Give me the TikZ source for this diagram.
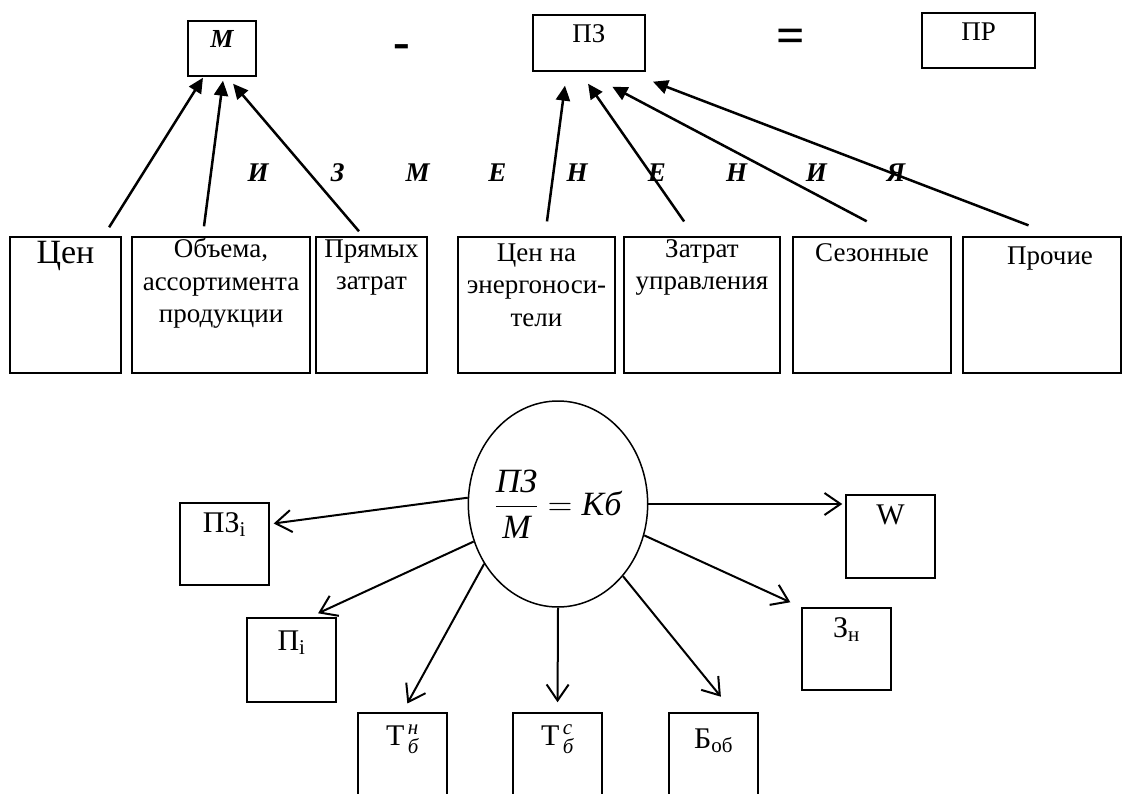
\RequirePackage{fix-cm}
\documentclass[tikz,border=0pt]{standalone}
\usepackage{amsmath}
\usepackage{fontspec}
\setmainfont{Liberation Serif}
\usetikzlibrary{shapes.geometric,arrows.meta}

\begin{document}
\begin{tikzpicture}[x=1pt, y=-1pt,
    fbox/.style={draw, line width=1.5pt, inner sep=0pt},
    intxt/.style={anchor=north, align=center, inner sep=0pt, font=\fontsize{27}{32.5}\selectfont},
    smtxt/.style={anchor=north, inner sep=0pt, font=\fontsize{30}{36}\selectfont},
    chg/.style={anchor=base, inner sep=0pt, font=\fontsize{27}{32}\selectfont\bfseries\itshape},
    opsign/.style={anchor=base, inner sep=0pt, font=\fontsize{50}{50}\selectfont\bfseries},
    toarr/.style={line width=2.5pt, -{Triangle[length=15pt,width=14pt]}},
    fromarr/.style={line width=2pt, -{Straight Barb[length=16pt,width=22pt]}}]
    \useasboundingbox (0,0) rectangle (1131,794);

    % M - PZ = PR
    \node[fbox, minimum width=68, minimum height=55] (m) at (222,48.5) {};
    \node[intxt, font=\fontsize{26}{32}\selectfont\bfseries\itshape] (mt) at ([yshift=-10]m.north) {М};
    \node[opsign] (minus) at (402,59) {-};
    \node[fbox, minimum width=112, minimum height=56] (pz) at (589,43) {};
    \node[intxt] (pzt) at ([yshift=-10]pz.north) {ПЗ};
    \node[opsign] (eq) at (791,53) {=};
    \node[fbox, minimum width=113, minimum height=55] (prb) at (978.5,40.5) {};
    \node[intxt] (prbt) at ([yshift=-10]prb.north) {ПР};

    % Factors
    \node[fbox, minimum width=111, minimum height=136] (cen) at (65.5,305) {};
    \node[intxt, font=\fontsize{34}{40}\selectfont] (cent) at ([yshift=-5]cen.north) {Цен};
    \node[fbox, minimum width=178, minimum height=136] (ob) at (221,305) {};
    \node[intxt] (obt) at ([yshift=-2]ob.north) {Объема,\\ассортимента\\продукции};
    \node[fbox, minimum width=111, minimum height=136] (pryam) at (371.5,305) {};
    \node[intxt] (pryamt) at ([yshift=-3]pryam.north) {Прямых\\затрат};
    \node[fbox, minimum width=157, minimum height=136] (en) at (536.5,305) {};
    \node[intxt] (ent) at ([yshift=-7]en.north) {Цен на\\энергоноси-\\тели};
    \node[fbox, minimum width=156, minimum height=136] (zu) at (702,305) {};
    \node[intxt] (zut) at ([yshift=-3]zu.north) {Затрат\\управления};
    \node[fbox, minimum width=158, minimum height=136] (sez) at (872,305) {};
    \node[intxt] (sezt) at ([yshift=-7]sez.north) {Сезонные};
    \node[fbox, minimum width=158, minimum height=136] (pro) at (1042,305) {};
    \node[intxt] (prot) at ([xshift=8,yshift=-10]pro.north) {Прочие};

    % Changes
    \foreach \ch [count=\i from 0] in {И,З,М,Е,Н,Е,Н,И,Я}
        \node[chg] (ch\i) at (258+79.75*\i,182) {\ch};

    \draw[toarr, shorten <=10.6pt, shorten >=1.2pt] ([xshift=38]cen.north) -- ([xshift=-18.4]m.south);
    \draw[toarr, shorten <=10pt, shorten >=4pt] ([xshift=-18.3]ob.north) -- ([xshift=1.5]m.south);
    \draw[toarr, shorten <=6.5pt, shorten >=9.2pt] ([xshift=-8.3]pryam.north) -- ([xshift=5.1]m.south);
    \draw[toarr, shorten <=15pt, shorten >=14pt] ([xshift=8.5]en.north) -- ([xshift=-22.2]pz.south);
    \draw[toarr, shorten <=18pt, shorten >=14.6pt] ([xshift=-7.6]zu.north) -- ([xshift=-9.3]pz.south);
    \draw[toarr, shorten <=32pt, shorten >=32pt] ([xshift=23]sez.north) -- ([xshift=-5]pz.south);
    \draw[toarr, shorten <=30.5pt, shorten >=27.8pt] ([xshift=15]pro.north) -- ([xshift=38]pz.south);

    % Coefficient
    \node[fbox, ellipse, minimum width=178, minimum height=206] (kb) at (558,504)
        {\fontsize{34}{40}\selectfont $\displaystyle\frac{\textit{ПЗ}}{\textit{М}}=\textit{Кб}$};

    \node[fbox, minimum width=89, minimum height=82] (pzi) at (224.5,544) {};
    \node[smtxt] (pzit) at ([yshift=-10]pzi.north) {ПЗ\textsubscript{i}};
    \node[fbox, minimum width=89, minimum height=84] (pi) at (291.5,660) {};
    \node[smtxt] (pit) at ([yshift=-13]pi.north) {П\textsubscript{i}};
    \node[fbox, minimum width=89, minimum height=82] (zn) at (846.5,649) {};
    \node[smtxt] (znt) at ([yshift=-10]zn.north) {З\textsubscript{н}};
    \node[fbox, minimum width=89, minimum height=83] (w) at (890.5,536.5) {};
    \node[smtxt] (wt) at ([yshift=-10]w.north) {W};
    \node[fbox, minimum width=89, minimum height=100] (tn) at (402.5,763) {};
    \node[smtxt] (tnt) at ([yshift=-12]tn.north) {$\text{Т}^{\,\textit{н}}_{\,\textit{б}}$};
    \node[fbox, minimum width=89, minimum height=100] (tc) at (557.5,763) {};
    \node[smtxt] (tct) at ([yshift=-12]tc.north) {$\text{Т}^{\,\textit{с}}_{\,\textit{б}}$};
    \node[fbox, minimum width=89, minimum height=100] (bob) at (713.5,763) {};
    \node[smtxt] (bobt) at ([yshift=-16]bob.north) {Б\textsubscript{об}};

    \draw[fromarr, shorten >=4pt] (kb.176) -- ([yshift=20]pzi.east);
    \draw[fromarr, shorten >=9.5pt] (kb.204) -- ([xshift=18]pi.north);
    \draw[fromarr, shorten >=10pt] (kb.219) -- (tn.north);
    \draw[fromarr, shorten >=10pt] (kb.270) -- (tc.north);
    \draw[fromarr, shorten >=20pt] (kb.312) -- ([xshift=20]bob.north);
    \draw[fromarr, shorten >=12pt] (kb.340) -- (zn.north west);
    \draw[fromarr, shorten >=3pt] (kb.east) -- (kb.east -| w.west);
\end{tikzpicture}
\end{document}
